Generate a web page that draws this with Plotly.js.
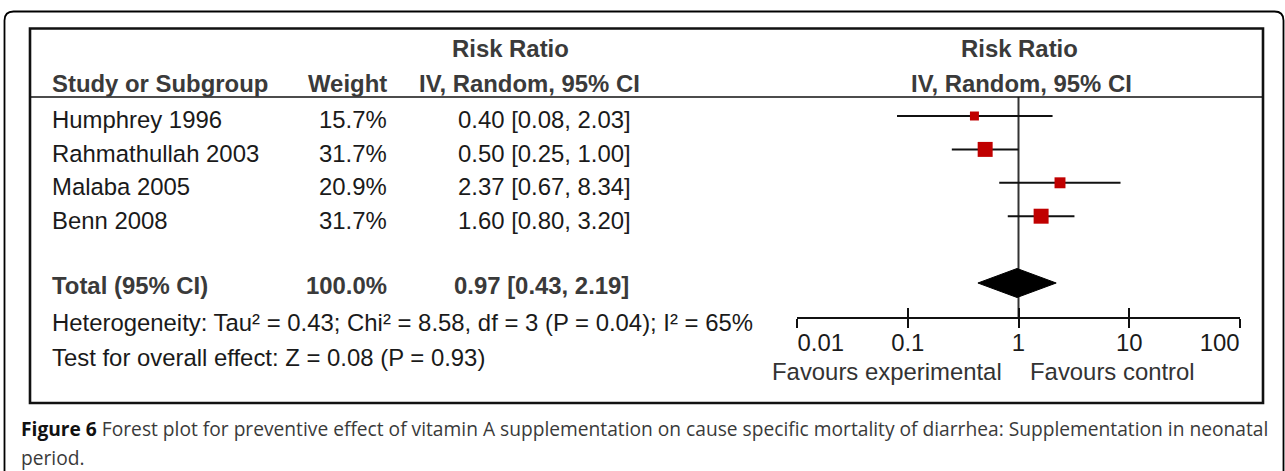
<!DOCTYPE html>
<html>
<head>
<meta charset="utf-8">
<script src="https://cdn.plot.ly/plotly-3.0.1.min.js"></script>
<style>html,body{margin:0;padding:0;background:#fff;}#chart{width:1285px;height:471px;}</style>
</head>
<body>
<div id="chart"></div>
<script>
// ---- data ----
const studies = ['Humphrey 1996', 'Rahmathullah 2003', 'Malaba 2005', 'Benn 2008'];
const weights = [15.7, 31.7, 20.9, 31.7];
const riskRatio = [0.40, 0.50, 2.37, 1.60];
const ciLow = [0.08, 0.25, 0.67, 0.80];
const ciHigh = [2.03, 1.00, 8.34, 3.20];
const totalLabel = 'Total (95% CI)';
const totalWeight = [100.0];
const totalRR = [0.97];
const totalLow = [0.43];
const totalHigh = [2.19];
const heterogeneityText = 'Heterogeneity: Tau² = 0.43; Chi² = 8.58, df = 3 (P = 0.04); I² = 65%';
const overallText = 'Test for overall effect: Z = 0.08 (P = 0.93)';
const tickValues = [0.01, 0.1, 1, 10, 100];
const tickLabels = ['0.01', '0.1', '1', '10', '100'];
const favoursLeft = 'Favours experimental';
const favoursRight = 'Favours control';
const captionBold = 'Figure 6';
const captionLine1 = 'Forest plot for preventive effect of vitamin A supplementation on cause specific mortality of diarrhea: Supplementation in neonatal';
const captionLine2 = 'period.';

// ---- layout helpers ----
const W = 1285, H = 471;
const px = x => x / W;
const py = y => 1 - y / H;
const FONT = 'Liberation Sans, Arial, Helvetica, sans-serif';
const FS = 23.9;
const studyRows = studies.map((_, i) => i + 1);
const totalRow = studies.length + 2;
const fmt = v => v.toFixed(2);
const ciText = (e, l, h) => fmt(e) + ' [' + fmt(l) + ', ' + fmt(h) + ']';

// ---- traces ----
const traces = [];
traces.push({
  type: 'scatter', mode: 'markers', x: riskRatio, y: studyRows,
  marker: { symbol: 'square', color: '#c00000', opacity: 1, size: weights.map(w => 3.1 + 0.375 * w), line: { width: 0 } },
  error_x: {
    type: 'data', symmetric: false,
    array: riskRatio.map((v, i) => ciHigh[i] - v),
    arrayminus: riskRatio.map((v, i) => v - ciLow[i]),
    width: 0, thickness: 2, color: '#111'
  },
  hoverinfo: 'skip', showlegend: false
});
const dh = 0.434;
traces.push({
  type: 'scatter', mode: 'lines', fill: 'toself', fillcolor: '#000',
  x: [totalLow[0], totalRR[0], totalHigh[0], totalRR[0], totalLow[0]],
  y: [totalRow, totalRow - dh, totalRow, totalRow + dh, totalRow],
  line: { color: '#000', width: 1 }, hoverinfo: 'skip', showlegend: false
});
['x2', 'x3', 'x4'].forEach(ax => traces.push({
  type: 'scatter', mode: 'markers', x: [1], y: [1], xaxis: ax, yaxis: 'y',
  marker: { opacity: 0 }, hoverinfo: 'skip', showlegend: false
}));

// ---- annotations ----
const ann = [];
function txt(x, y, text, opts) {
  ann.push(Object.assign({
    xref: 'paper', yref: 'paper', x: x, y: y, text: text, showarrow: false,
    xanchor: 'left', yanchor: 'middle', borderpad: 0, borderwidth: 0,
    font: { family: FONT, size: FS, color: '#1a1a1a' }
  }, opts || {}));
}
const hdr = { family: FONT, size: FS, color: '#3a3a3a' };
txt(px(510.5), py(49), '<b>Risk Ratio</b>', { xanchor: 'center', font: hdr });
txt(px(1019), py(49), '<b>Risk Ratio</b>', { xanchor: 'center', font: hdr });
txt(px(52), py(84), '<b>Study or Subgroup</b>', { font: hdr });
txt(px(387), py(84), '<b>Weight</b>', { xanchor: 'right', font: hdr });
txt(px(529), py(84), '<b>IV, Random, 95% CI</b>', { xanchor: 'center', font: hdr });
txt(px(1022), py(84), '<b>IV, Random, 95% CI</b>', { xanchor: 'center', font: hdr });

studies.forEach((s, i) => {
  const base = { yref: 'y', y: studyRows[i], yshift: -4 };
  txt(px(52), 0, s, Object.assign({}, base));
  txt(px(387), 0, weights[i].toFixed(1) + '%', Object.assign({ xanchor: 'right' }, base));
  txt(px(631), 0, ciText(riskRatio[i], ciLow[i], ciHigh[i]), Object.assign({ xanchor: 'right' }, base));
});
const tb = { yref: 'y', y: totalRow, yshift: -2, font: hdr };
txt(px(52), 0, '<b>' + totalLabel + '</b>', Object.assign({}, tb));
txt(px(387), 0, '<b>' + totalWeight[0].toFixed(1) + '%</b>', Object.assign({ xanchor: 'right' }, tb));
txt(px(629), 0, '<b>' + ciText(totalRR[0], totalLow[0], totalHigh[0]) + '</b>', Object.assign({ xanchor: 'right' }, tb));

txt(px(52), py(322), heterogeneityText);
txt(px(52), py(357.5), overallText);
txt(px(1002), py(371.5), favoursLeft, { xanchor: 'right', font: { family: FONT, size: FS, color: '#333' } });
txt(px(1030), py(371.5), favoursRight, { font: { family: FONT, size: FS, color: '#333' } });

const capFont = { family: 'Open Sans, Noto Sans, sans-serif', size: 19.2, color: '#3a3a3a' };
txt(px(20.5), py(428), '<b><span style="color:#111">' + captionBold + '</span></b> ' + captionLine1, { font: capFont });
txt(px(20.5), py(457), captionLine2, { font: capFont });

// ---- shapes ----
const r = 9;
const L = 4.5, T = 11.5, R = 1283.5, B = 480;
const framePath = 'M' + px(L) + ',' + py(B) + ' L' + px(L) + ',' + py(T + r) +
  ' Q' + px(L) + ',' + py(T) + ' ' + px(L + r) + ',' + py(T) +
  ' L' + px(R - r) + ',' + py(T) +
  ' Q' + px(R) + ',' + py(T) + ' ' + px(R) + ',' + py(T + r) +
  ' L' + px(R) + ',' + py(B);
const shapes = [
  { type: 'path', xref: 'paper', yref: 'paper', path: framePath, line: { color: '#000', width: 1.8 } },
  { type: 'rect', xref: 'paper', yref: 'paper', x0: px(30), x1: px(1263), y0: py(28.5), y1: py(403), line: { color: '#111', width: 2.6 } },
  { type: 'line', xref: 'paper', yref: 'paper', x0: px(30), x1: px(1263), y0: py(97), y1: py(97), line: { color: '#111', width: 1.6 } },
  { type: 'line', xref: 'x', yref: 'y domain', x0: 1, x1: 1, y0: 0, y1: 1, line: { color: '#333', width: 2 }, layer: 'below' }
];

// ---- axes ----
const xDomain = [px(797), px(1240)];
const tickFont = { family: FONT, size: FS, color: '#1a1a1a' };
const baseX = {
  type: 'log', range: [-2, 2], domain: xDomain, anchor: 'y', showgrid: false, zeroline: false,
  tickmode: 'array', fixedrange: true
};
const layout = {
  width: W, height: H, margin: { l: 0, r: 0, t: 0, b: 0 },
  paper_bgcolor: '#fff', plot_bgcolor: 'rgba(0,0,0,0)', showlegend: false,
  xaxis: Object.assign({}, baseX, {
    tickvals: tickValues, ticktext: tickLabels.map((t, i) => (i === 0 || i === tickLabels.length - 1) ? '' : t),
    ticks: 'outside', ticklen: 9, tickwidth: 2, tickcolor: '#111', ticklabelstandoff: -6,
    showline: true, linecolor: '#111', linewidth: 2, tickfont: tickFont
  }),
  xaxis2: Object.assign({}, baseX, {
    overlaying: 'x', tickvals: tickValues, ticks: 'inside', ticklen: 9, tickwidth: 2, tickcolor: '#111',
    showticklabels: false, showline: false
  }),
  xaxis3: Object.assign({}, baseX, {
    overlaying: 'x', tickvals: [tickValues[0]], ticktext: [tickLabels[0]],
    ticks: 'outside', ticklen: 9, tickcolor: 'rgba(0,0,0,0)', ticklabelposition: 'outside right',
    ticklabelstandoff: 4, showline: false, tickfont: tickFont
  }),
  xaxis4: Object.assign({}, baseX, {
    overlaying: 'x', tickvals: [tickValues[4]], ticktext: [tickLabels[4]],
    ticks: 'outside', ticklen: 9, tickcolor: 'rgba(0,0,0,0)', ticklabelposition: 'outside left',
    ticklabelstandoff: 4, showline: false, tickfont: tickFont
  }),
  yaxis: {
    domain: [py(317), py(97)], range: [7.018, 0.431], visible: false, fixedrange: true
  },
  annotations: ann,
  shapes: shapes
};
Plotly.newPlot('chart', traces, layout, { displayModeBar: false, staticPlot: true });
</script>
</body>
</html>
